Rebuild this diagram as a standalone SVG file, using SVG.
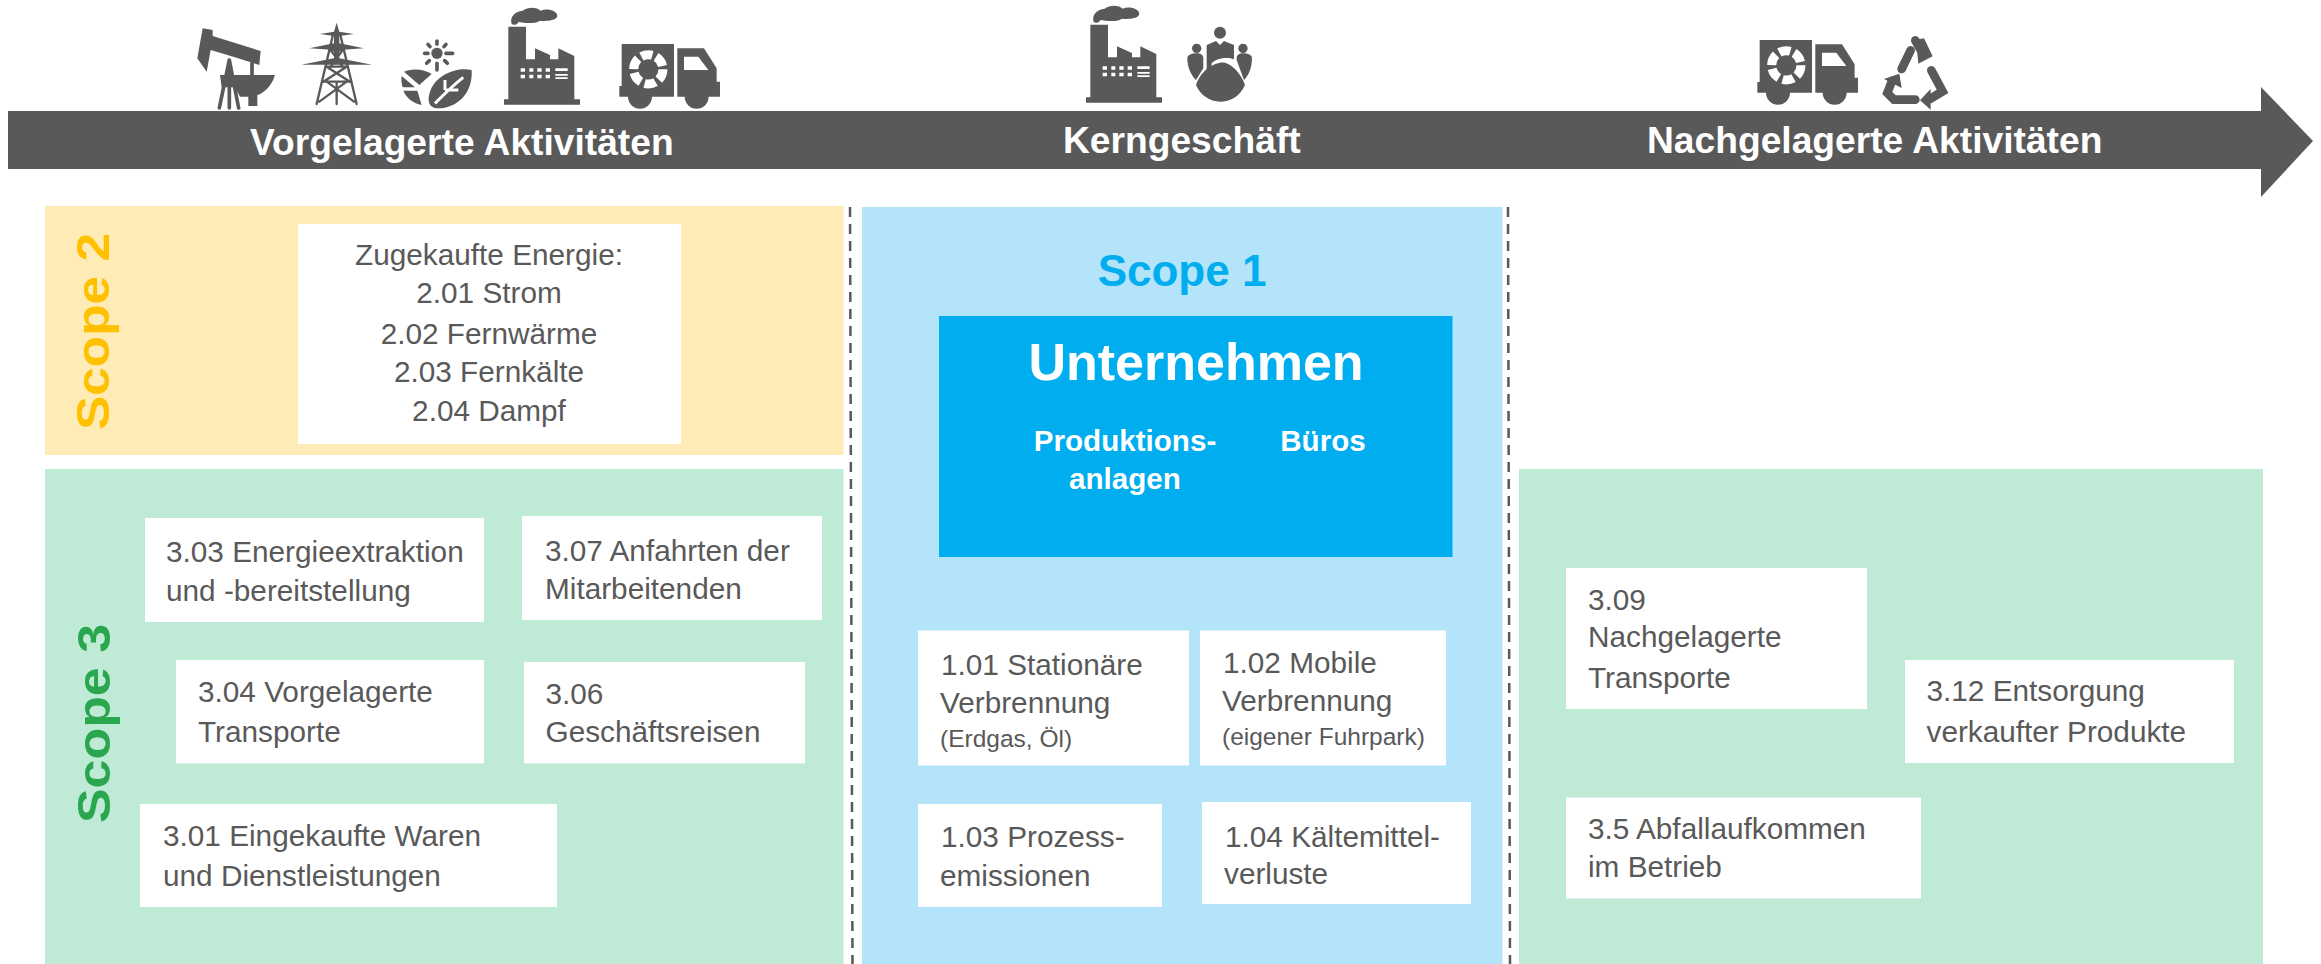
<svg xmlns="http://www.w3.org/2000/svg" width="2321" height="964" viewBox="0 0 2321 964">
<style>
text{font-family:"Liberation Sans",Arial,sans-serif}
.t{font-size:29.75px;fill:#595959;transform:translate(0,-1px)}
.s{font-size:24.5px;fill:#595959;transform:translate(0,-1px)}
.h{font-size:37.2px;font-weight:bold;fill:#fff}
.sc{font-weight:bold;font-size:46px}
.u{font-weight:bold;fill:#fff;font-size:29.6px}
.box{fill:#fff}
.ic{fill:#595959}
.ln{fill:none;stroke:#595959;stroke-linecap:round}
.wl{fill:#fff}
.div{fill:none;stroke:#595959;stroke-width:2.5;stroke-dasharray:10 7}
</style>
<defs>
<g id="factory">
<path class="ic" d="M85 80H138V178H165V145L210 165V178H235V145L283 168V298H300V314H72V298H85Z"/>
<path class="ic" d="M95 72C88 50 106 34 128 32C150 18 172 24 182 32C202 24 232 32 232 48C230 62 200 64 180 62C160 74 130 68 116 66C110 76 100 76 95 72Z"/>
<path class="wl" d="M122 205h13v10h-13zM148 205h12v10h-12zM172 205h13v10h-13zM197 205h13v10h-13zM226 205h37v8h-37zM122 224h13v11h-13zM148 224h12v11h-12zM172 224h13v11h-13zM197 224h13v11h-13zM226 222h37v5h-37zM226 232h37v5h-37z"/>
</g>
<g id="truck">
<circle class="ic" cx="480" cy="290" r="36"/>
<circle class="ic" cx="650" cy="290" r="36"/>
<path class="ic" d="M425 132H582V290H418V258H425Z"/>
<path class="ic" d="M592 145H672L710 205V245H720V290H592Z"/>
<path class="wl" d="M612 170H655L685 210H612Z"/>
<circle cx="505" cy="208" r="44" fill="none" stroke="#fff" stroke-width="27" stroke-dasharray="34 12.080"/>
</g>
</defs>

<g id="timeline-arrow">
<path fill="#595959" d="M8 111H2261V87L2313 141L2261 197V169H8Z"/>
<text class="h" x="250" y="155">Vorgelagerte Aktivitäten</text>
<text class="h" x="1063" y="153">Kerngeschäft</text>
<text class="h" x="1647" y="153">Nachgelagerte Aktivitäten</text>
</g>

<g id="icon-pump" transform="translate(180,0) scale(.3333)">
<path class="ic" d="M68 85L98 90V108L242 153L238 195L165 172L92 150L80 215L52 175Z"/>
<path class="ln" stroke-width="11" d="M148 180L118 324M148 180L176 324M148 210V324M216 190V230"/>
<path class="ic" d="M120 225H285C275 260 250 280 232 285V318H205V290H180L165 262H125Z"/>
</g>
<g id="icon-tower" transform="translate(180,0) scale(.3333)">
<path class="ic" d="M470 68L478 95L522 102L478 108V130L552 145L478 150V175L576 194L364 194L462 175V150L388 145L462 130V108L420 102L462 95Z"/>
<path class="ln" stroke-width="7" d="M460 100L410 312M480 100L530 312M450 150L490 150M440 200H500M430 245H510M418 305L500 245M522 305L440 245M440 200L510 245M500 200L430 245M470 245V312M452 150L488 200M488 150L452 200"/>
</g>
<g id="icon-plant" transform="translate(180,0) scale(.3333)">
<circle class="ic" cx="771" cy="160" r="17"/>
<path class="ln" stroke-width="11" d="M771 123V132M771 190V210M734 160H744M798 160H818M744 133L750 140M798 133L792 140M740 190L748 182M802 190L794 182"/>
<path class="ic" d="M672 215C700 203 735 208 755 222L718 255Z"/>
<path class="ic" d="M665 228L705 262H668C665 250 663 240 665 228Z"/>
<path class="ic" d="M670 272H712L725 315C700 310 680 295 670 272Z"/>
<path class="ic" d="M875 210C830 200 770 225 752 270C740 300 745 325 775 325C830 325 880 280 875 210Z"/>
<path d="M765 310C790 285 820 255 850 232M795 270V240M795 270H835" fill="none" stroke="#fff" stroke-width="9"/>
</g>
<g id="icon-factory-1" transform="translate(480,0) scale(.3333)"><use href="#factory"/></g>
<g id="icon-truck-1" transform="translate(480,0) scale(.3333)"><use href="#truck"/></g>
<g id="icon-factory-2" transform="translate(1062,-2) scale(.3333)"><use href="#factory"/></g>
<g id="icon-people" transform="translate(1070,0) scale(.3333)">
<circle class="ic" cx="450" cy="98" r="18"/>
<circle class="ic" cx="380" cy="145" r="14"/>
<circle class="ic" cx="519" cy="145" r="14"/>
<path class="ic" d="M410 135L438 123L450 135L462 123L492 135V178C470 170 440 175 425 190V215H410Z"/>
<path class="ic" d="M352 175C352 165 365 160 380 160C395 160 402 168 400 180V205L378 240C362 225 352 200 352 175Z"/>
<path class="ic" d="M546 175C546 165 535 160 519 160C505 160 498 168 500 180L522 240C538 225 546 200 546 175Z"/>
<path class="ic" d="M378 255C395 205 440 185 465 188C490 195 515 225 525 255C510 290 480 305 450 305C420 305 390 285 378 255Z"/>
</g>
<g id="icon-truck-2" transform="translate(1618,-4) scale(.3333)"><use href="#truck"/></g>
<g id="icon-recycle" transform="translate(1740,43) scale(.3333)">
<path class="ln" stroke-width="26" stroke-linecap="butt" fill="none" d="M485 78L512 22M526 -8L546 28M574 82L608 145L570 168M526 170H462L442 150L456 114"/>
<path class="ic" d="M528 -10L552 -14L578 40L535 62ZM540 172L572 138V200ZM432 108L478 92L485 135Z"/>
</g>

<g id="scope-2">
<rect x="45" y="206" width="798.500" height="249" fill="#FFEBB5"/>
<text class="sc" fill="#FFC000" transform="translate(109,430) rotate(-90)" textLength="197" lengthAdjust="spacingAndGlyphs">Scope 2</text>
</g>
<g id="scope-3">
<rect x="45" y="469" width="798.500" height="495" fill="#BFEBD6"/>
<text class="sc" fill="#2AA64F" transform="translate(110,823) rotate(-90)" textLength="199" lengthAdjust="spacingAndGlyphs">Scope 3</text>
</g>
<g id="scope-1">
<rect x="862" y="207" width="640.500" height="757" fill="#B3E4FA"/>
<text fill="#00ADEF" font-weight="bold" font-size="44" x="1182" y="286" text-anchor="middle">Scope 1</text>
</g>
<g id="scope-3-right">
<rect x="1519" y="469" width="744" height="495" fill="#BFEBD6"/>
</g>

<g id="unternehmen">
<rect x="939" y="316" width="513.500" height="241" fill="#00ADEF"/>
<text x="1196" y="380" text-anchor="middle" font-weight="bold" font-size="52" fill="#fff">Unternehmen</text>
<text class="u" x="1125" y="451" text-anchor="middle">Produktions-</text>
<text class="u" x="1125" y="489" text-anchor="middle">anlagen</text>
<text class="u" x="1323" y="451" text-anchor="middle">Büros</text>
</g>

<g id="n2-energie">
<rect class="box" x="298" y="224" width="383" height="220"/>
<text class="t" text-anchor="middle"><tspan x="489" y="266">Zugekaufte Energie:</tspan><tspan x="489" y="304">2.01 Strom</tspan><tspan x="489" y="345">2.02 Fernwärme</tspan><tspan x="489" y="383">2.03 Fernkälte</tspan><tspan x="489" y="422">2.04 Dampf</tspan></text>
</g>
<g id="n303">
<rect class="box" x="145" y="518" width="339" height="104"/>
<text class="t"><tspan x="166" y="563">3.03 Energieextraktion</tspan><tspan x="166" y="602">und -bereitstellung</tspan></text>
</g>
<g id="n307">
<rect class="box" x="522" y="516" width="300" height="104"/>
<text class="t"><tspan x="545" y="562">3.07 Anfahrten der</tspan><tspan x="545" y="600">Mitarbeitenden</tspan></text>
</g>
<g id="n304">
<rect class="box" x="176" y="660" width="308" height="103.500"/>
<text class="t"><tspan x="198" y="703">3.04 Vorgelagerte</tspan><tspan x="198" y="743">Transporte</tspan></text>
</g>
<g id="n306">
<rect class="box" x="524" y="662" width="281" height="101.500"/>
<text class="t"><tspan x="545.500" y="705">3.06</tspan><tspan x="545.500" y="743">Geschäftsreisen</tspan></text>
</g>
<g id="n301">
<rect class="box" x="140" y="804" width="417" height="103"/>
<text class="t"><tspan x="163" y="847">3.01 Eingekaufte Waren</tspan><tspan x="163" y="887">und Dienstleistungen</tspan></text>
</g>

<g id="n101">
<rect class="box" x="918" y="630.500" width="271" height="135"/>
<text class="t"><tspan x="941" y="676">1.01 Stationäre</tspan><tspan x="940" y="714">Verbrennung</tspan></text>
<text class="s" x="940" y="748">(Erdgas, Öl)</text>
</g>
<g id="n102">
<rect class="box" x="1200" y="630.500" width="246" height="135"/>
<text class="t"><tspan x="1223" y="674">1.02 Mobile</tspan><tspan x="1222" y="712">Verbrennung</tspan></text>
<text class="s" x="1222" y="746">(eigener Fuhrpark)</text>
</g>
<g id="n103">
<rect class="box" x="918" y="804" width="244" height="103"/>
<text class="t"><tspan x="941" y="848">1.03 Prozess-</tspan><tspan x="940" y="887">emissionen</tspan></text>
</g>
<g id="n104">
<rect class="box" x="1202" y="802" width="269" height="102"/>
<text class="t"><tspan x="1225" y="848">1.04 Kältemittel-</tspan><tspan x="1224" y="885">verluste</tspan></text>
</g>

<g id="n309">
<rect class="box" x="1566" y="568" width="301" height="141"/>
<text class="t"><tspan x="1588" y="611">3.09</tspan><tspan x="1588" y="648">Nachgelagerte</tspan><tspan x="1588" y="689">Transporte</tspan></text>
</g>
<g id="n312">
<rect class="box" x="1905" y="660" width="329" height="103"/>
<text class="t"><tspan x="1926.500" y="702">3.12 Entsorgung</tspan><tspan x="1926.500" y="743">verkaufter Produkte</tspan></text>
</g>
<g id="n35">
<rect class="box" x="1566" y="797.500" width="355" height="101"/>
<text class="t"><tspan x="1588" y="840">3.5 Abfallaufkommen</tspan><tspan x="1588" y="878">im Betrieb</tspan></text>
</g>

<g id="connectors">
<path class="div" d="M850 207L852.500 964"/>
<path class="div" d="M1508 207L1510 964"/>
</g>
</svg>
